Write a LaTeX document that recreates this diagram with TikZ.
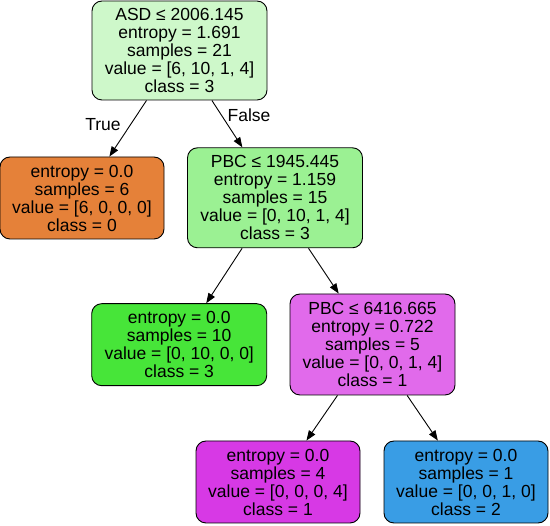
\documentclass[tikz,border=0pt]{standalone}
\usepackage{fontspec}
\setmainfont{Liberation Sans}
\usetikzlibrary{arrows.meta}
\definecolor{cRoot}{RGB}{206,248,202}
\definecolor{cOrange}{RGB}{229,129,57}
\definecolor{cPbcA}{RGB}{155,241,147}
\definecolor{cGreen}{RGB}{71,229,57}
\definecolor{cPink}{RGB}{225,106,235}
\definecolor{cPurple}{RGB}{215,57,229}
\definecolor{cBlue}{RGB}{57,157,229}
\tikzset{
  treenode/.style={draw=black, line width=0.9pt, rounded corners=10pt, align=center, inner sep=0pt,
    font=\fontsize{17.5}{18}\selectfont},
  treeedge/.style={draw=black, line width=0.9pt, -{Triangle[length=10pt,width=7.5pt]}},
  edgelabel/.style={font=\fontsize{17.5}{18}\selectfont, inner sep=0pt}
}
\begin{document}
\begin{tikzpicture}[x=1pt,y=-1pt]
\useasboundingbox (0,0) rectangle (550,526);
\node[treenode, fill=cRoot, minimum width=175pt, minimum height=99pt] (root) at (179.5,50.5)
  {ASD ≤ 2006.145\\entropy = 1.691\\samples = 21\\value = [6, 10, 1, 4]\\class = 3};
\node[treenode, fill=cOrange, minimum width=164pt, minimum height=82pt] (leafA) at (82,198)
  {entropy = 0.0\\samples = 6\\value = [6, 0, 0, 0]\\class = 0};
\node[treenode, fill=cPbcA, minimum width=175pt, minimum height=100pt] (pbcA) at (275,197.8)
  {PBC ≤ 1945.445\\entropy = 1.159\\samples = 15\\value = [0, 10, 1, 4]\\class = 3};
\node[treenode, fill=cGreen, minimum width=175pt, minimum height=82pt] (leafB) at (179.2,344.7)
  {entropy = 0.0\\samples = 10\\value = [0, 10, 0, 0]\\class = 3};
\node[treenode, fill=cPink, minimum width=165pt, minimum height=101pt] (pbcB) at (372.5,344.5)
  {PBC ≤ 6416.665\\entropy = 0.722\\samples = 5\\value = [0, 0, 1, 4]\\class = 1};
\node[treenode, fill=cPurple, minimum width=164pt, minimum height=82pt] (leafC) at (278,482)
  {entropy = 0.0\\samples = 4\\value = [0, 0, 0, 4]\\class = 1};
\node[treenode, fill=cBlue, minimum width=164pt, minimum height=82pt] (leafD) at (466,482)
  {entropy = 0.0\\samples = 1\\value = [0, 0, 1, 0]\\class = 2};
\draw[treeedge] (root) -- (leafA);
\draw[treeedge] (root) -- (pbcA);
\draw[treeedge] (pbcA) -- (leafB);
\draw[treeedge] (pbcA) -- (pbcB);
\draw[treeedge] (pbcB) -- (leafC);
\draw[treeedge] (pbcB) -- (leafD);
\node[edgelabel] (lblTrue) at (103,125) {True};
\node[edgelabel] (lblFalse) at (249,115) {False};
\end{tikzpicture}
\end{document}
